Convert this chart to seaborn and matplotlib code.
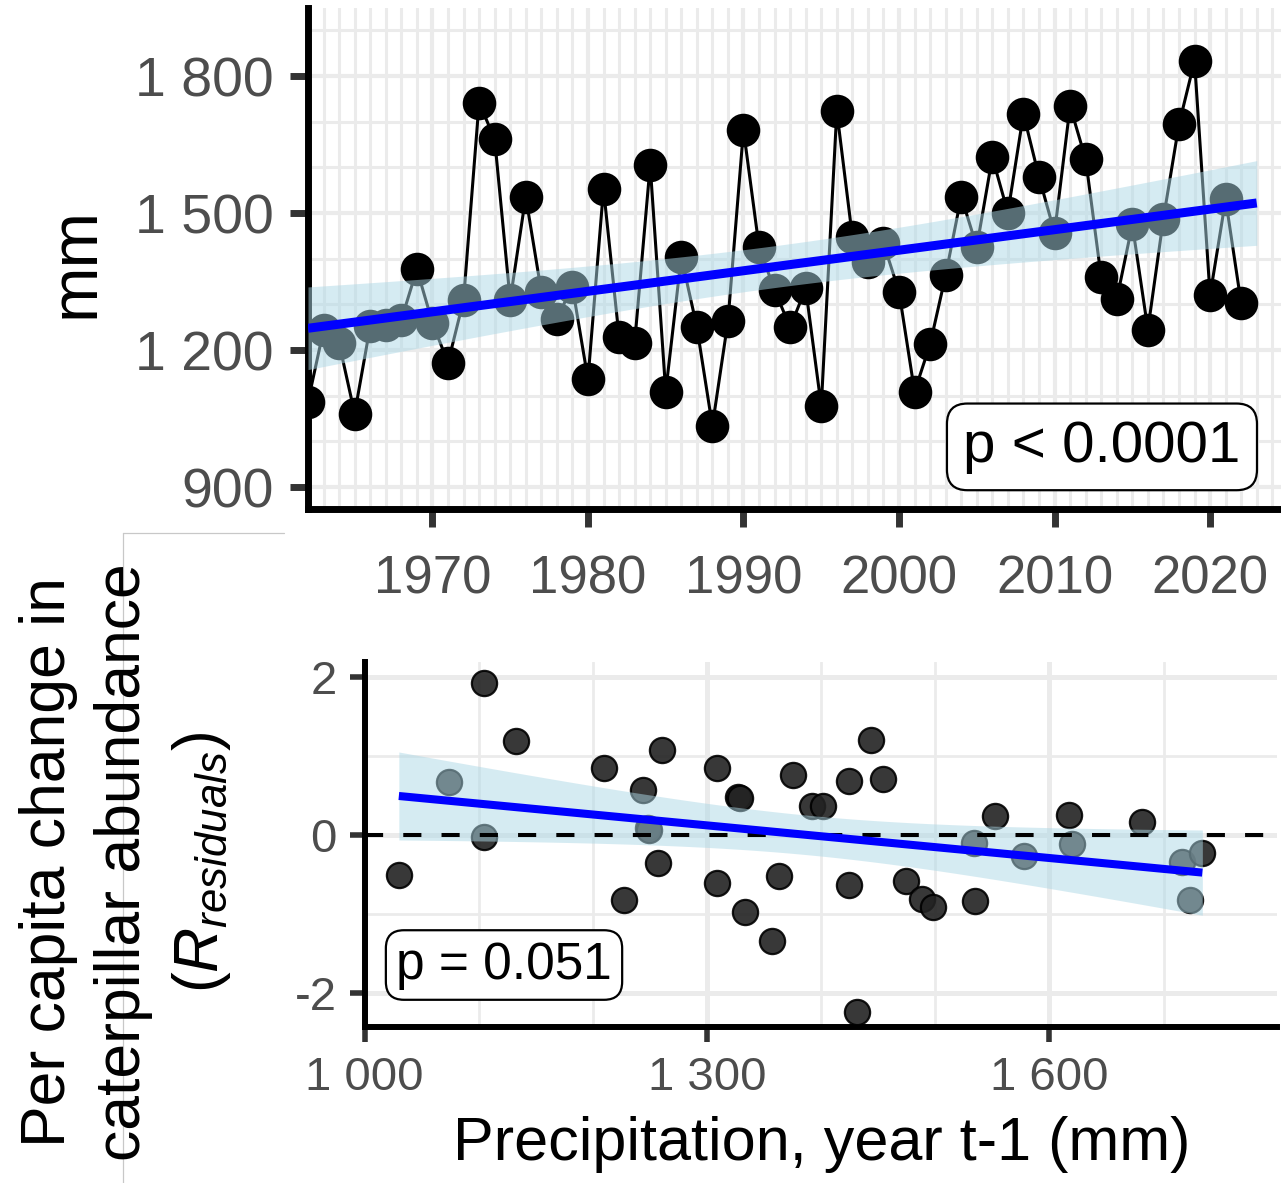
import numpy as np
import pandas as pd
import matplotlib
matplotlib.use("Agg")
import matplotlib.pyplot as plt
import seaborn as sns
from matplotlib.lines import Line2D
from matplotlib.ticker import FuncFormatter, MultipleLocator, FixedLocator

# ---------------- data ----------------
years = list(range(1962, 2023))
precip_mm = [1087, 1244, 1215, 1061, 1252, 1255, 1266, 1377, 1260, 1172,
             1309, 1742, 1662, 1309, 1536, 1328, 1269, 1339, 1136, 1553,
             1229, 1215, 1605, 1109, 1404, 1251, 1034, 1263, 1682, 1426,
             1331, 1250, 1335, 1077, 1723, 1448, 1393, 1434, 1328, 1109,
             1213, 1364, 1536, 1426, 1622, 1501, 1717, 1579, 1457, 1734,
             1618, 1359, 1311, 1475, 1245, 1488, 1694, 1833, 1320, 1530, 1302]

prev_precip = [1030, 1074, 1105, 1105, 1133, 1210, 1227, 1244, 1248, 1249,
               1257, 1261, 1309, 1309, 1327, 1329, 1333, 1357, 1363, 1375,
               1392, 1402, 1424, 1424, 1431, 1444, 1454, 1474, 1488, 1498,
               1534, 1535, 1552, 1578, 1617, 1620, 1681, 1716, 1723, 1734]
residuals = [-0.51, 0.67, 1.92, -0.03, 1.19, 0.85, -0.83, 0.57, 0.09, 0.06,
             -0.36, 1.07, 0.85, -0.61, 0.48, 0.46, -0.98, -1.35, -0.52, 0.76,
             0.36, 0.36, 0.68, -0.64, -2.24, 1.20, 0.71, -0.59, -0.81, -0.91,
             -0.11, -0.84, 0.24, -0.27, 0.25, -0.12, 0.16, -0.34, -0.82, -0.23]

top_yticks = [900, 1200, 1500, 1800]
top_xticks = [1970, 1980, 1990, 2000, 2010, 2020]
bot_xticks = [1000, 1300, 1600]
bot_yticks = [-2, 0, 2]
p_top = "p < 0.0001"
p_bot = "p = 0.051"

# ---------------- style ----------------
sns.set_theme(style="white")
plt.rcParams["font.family"] = ["Liberation Sans", "DejaVu Sans"]
plt.rcParams["mathtext.fontset"] = "custom"
plt.rcParams["mathtext.rm"] = "Liberation Sans"
plt.rcParams["mathtext.it"] = "Liberation Sans:italic"

W, H = 1281, 1183
fig = plt.figure(figsize=(W / 100, H / 100), dpi=100)
fig.patch.set_facecolor("white")

GRID = "#ebebeb"
TICKC = "#333333"
LABC = "#4d4d4d"


def tq(df):
    z = 1.959964
    g1 = (z**3 + z) / 4
    g2 = (5 * z**5 + 16 * z**3 + 3 * z) / 96
    g3 = (3 * z**7 + 19 * z**5 + 17 * z**3 - 15 * z) / 384
    return z + g1 / df + g2 / df**2 + g3 / df**3


def lm_band(x, y, xg):
    x = np.asarray(x, float)
    y = np.asarray(y, float)
    n = len(x)
    b, a = np.polyfit(x, y, 1)
    yhat = a + b * xg
    res = y - (a + b * x)
    s = np.sqrt(np.sum(res**2) / (n - 2))
    sxx = np.sum((x - x.mean()) ** 2)
    se = s * np.sqrt(1 / n + (xg - x.mean()) ** 2 / sxx)
    t = tq(n - 2)
    return yhat, yhat - t * se, yhat + t * se


space_fmt = FuncFormatter(lambda v, p: f"{int(round(v)):,}".replace(",", " "))

# ---------------- top panel ----------------
ax1 = fig.add_axes([308 / W, 1 - 509 / H, 1 - 308 / W, (509 - 8) / H])
df_top = pd.DataFrame({"year": years, "mm": precip_mm})

ax1.set_xlim(1962, 2024.56)
ax1.set_ylim(852, 1949)
ax1.xaxis.set_major_locator(FixedLocator(top_xticks))
ax1.xaxis.set_minor_locator(MultipleLocator(1))
ax1.yaxis.set_major_locator(FixedLocator(top_yticks))
ax1.yaxis.set_minor_locator(MultipleLocator(100))
ax1.yaxis.set_major_formatter(space_fmt)
ax1.grid(which="major", color=GRID, lw=3.0, zorder=0)
ax1.grid(which="minor", color=GRID, lw=2.2, zorder=0)
ax1.set_axisbelow(True)

sns.lineplot(data=df_top, x="year", y="mm", color="black", lw=2.2, ax=ax1,
             zorder=3, legend=False)
sns.scatterplot(data=df_top, x="year", y="mm", color="black", edgecolor="black",
                s=500, ax=ax1, zorder=4, legend=False)

xg1 = np.linspace(min(years), max(years) + 1, 200)
yh1, lo1, hi1 = lm_band(years, precip_mm, xg1)
ax1.fill_between(xg1, lo1, hi1, color="lightblue", alpha=0.5, lw=0, zorder=5)
ax1.plot(xg1, yh1, color="blue", lw=6.5, zorder=6, solid_capstyle="butt")

for side in ["top", "right"]:
    ax1.spines[side].set_visible(False)
for side in ["left", "bottom"]:
    ax1.spines[side].set_color("black")
    ax1.spines[side].set_linewidth(5)
ax1.tick_params(axis="both", which="major", length=13, width=5, color=TICKC,
                labelcolor=LABC, bottom=True, left=True)
ax1.tick_params(axis="y", which="major", labelsize=40, pad=12)
ax1.tick_params(axis="x", which="major", labelsize=38, pad=20)
ax1.tick_params(which="minor", length=0)
ax1.set_xlabel("")
ax1.set_ylabel("")

ax1.text(0.816, 0.124, p_top, transform=ax1.transAxes, fontsize=42,
         ha="center", va="center", color="black", zorder=10,
         bbox=dict(boxstyle="round,pad=0.28,rounding_size=0.35", fc="white",
                   ec="black", lw=1.6))

fig.text(77 / W, 1 - 262 / H, "mm", rotation=90, ha="center", va="center",
         fontsize=48, color="black")

# ---------------- bottom panel ----------------
ax2 = fig.add_axes([364.6 / W, 1 - 1026.7 / H, (1277 - 364.6) / W, (1026.7 - 661.7) / H])
df_bot = pd.DataFrame({"prev": prev_precip, "res": residuals})

ax2.set_xlim(1000, 1799.4)
ax2.set_ylim(-2.43, 2.19)
ax2.xaxis.set_major_locator(FixedLocator(bot_xticks))
ax2.xaxis.set_minor_locator(MultipleLocator(100))
ax2.yaxis.set_major_locator(FixedLocator(bot_yticks))
ax2.yaxis.set_minor_locator(MultipleLocator(1))
ax2.xaxis.set_major_formatter(space_fmt)
ax2.yaxis.set_major_formatter(FuncFormatter(lambda v, p: f"{int(v)}"))
ax2.grid(which="major", color=GRID, lw=3.6, zorder=0)
ax2.grid(which="minor", color=GRID, lw=2.0, zorder=0)
ax2.set_axisbelow(True)

sns.scatterplot(data=df_bot, x="prev", y="res", color="#222222", edgecolor="black",
                linewidth=1.6, alpha=0.9, s=330, ax=ax2, zorder=3, legend=False)

xg2 = np.linspace(min(prev_precip), max(prev_precip), 200)
yh2, lo2, hi2 = lm_band(prev_precip, residuals, xg2)
ax2.fill_between(xg2, lo2, hi2, color="lightblue", alpha=0.5, lw=0, zorder=4)
ax2.axhline(0, color="black", lw=2.9, ls=(0, (4.5, 5)), zorder=5)
ax2.plot(xg2, yh2, color="blue", lw=5.8, zorder=6, solid_capstyle="butt")

for side in ["top", "right"]:
    ax2.spines[side].set_visible(False)
for side in ["left", "bottom"]:
    ax2.spines[side].set_color("black")
    ax2.spines[side].set_linewidth(4.3)
ax2.tick_params(axis="both", which="major", length=11, width=4, color=TICKC,
                labelcolor=LABC, labelsize=34, bottom=True, left=True)
ax2.tick_params(axis="y", which="major", pad=9)
ax2.tick_params(axis="x", which="major", pad=10)
ax2.tick_params(which="minor", length=0)
ax2.set_xlabel("")
ax2.set_ylabel("")

ax2.text(0.1528, 0.169, p_bot, transform=ax2.transAxes, fontsize=37,
         ha="center", va="center", color="black", zorder=10,
         bbox=dict(boxstyle="round,pad=0.2,rounding_size=0.35", fc="white",
                   ec="black", lw=1.6))

fig.text(822 / W, 1 - 1160 / H, "Precipitation, year t-1 (mm)", ha="center",
         va="baseline", fontsize=44, color="black")
fig.text(126 / W, 1 - 862 / H,
         "Per capita change in\ncaterpillar abundance\n($R_{residuals}$)",
         rotation=90, ha="center", va="center", multialignment="center",
         fontsize=45, color="black", linespacing=1.35)

# thin grey frame remnant
fig.add_artist(Line2D([123 / W, 284 / W], [1 - 533 / H, 1 - 533 / H],
                      transform=fig.transFigure, color="#c8c8c8", lw=0.9))
fig.add_artist(Line2D([123 / W, 123 / W], [1 - 533 / H, 0],
                      transform=fig.transFigure, color="#c8c8c8", lw=0.9))

fig.savefig("out.png", dpi=100, facecolor="white")
